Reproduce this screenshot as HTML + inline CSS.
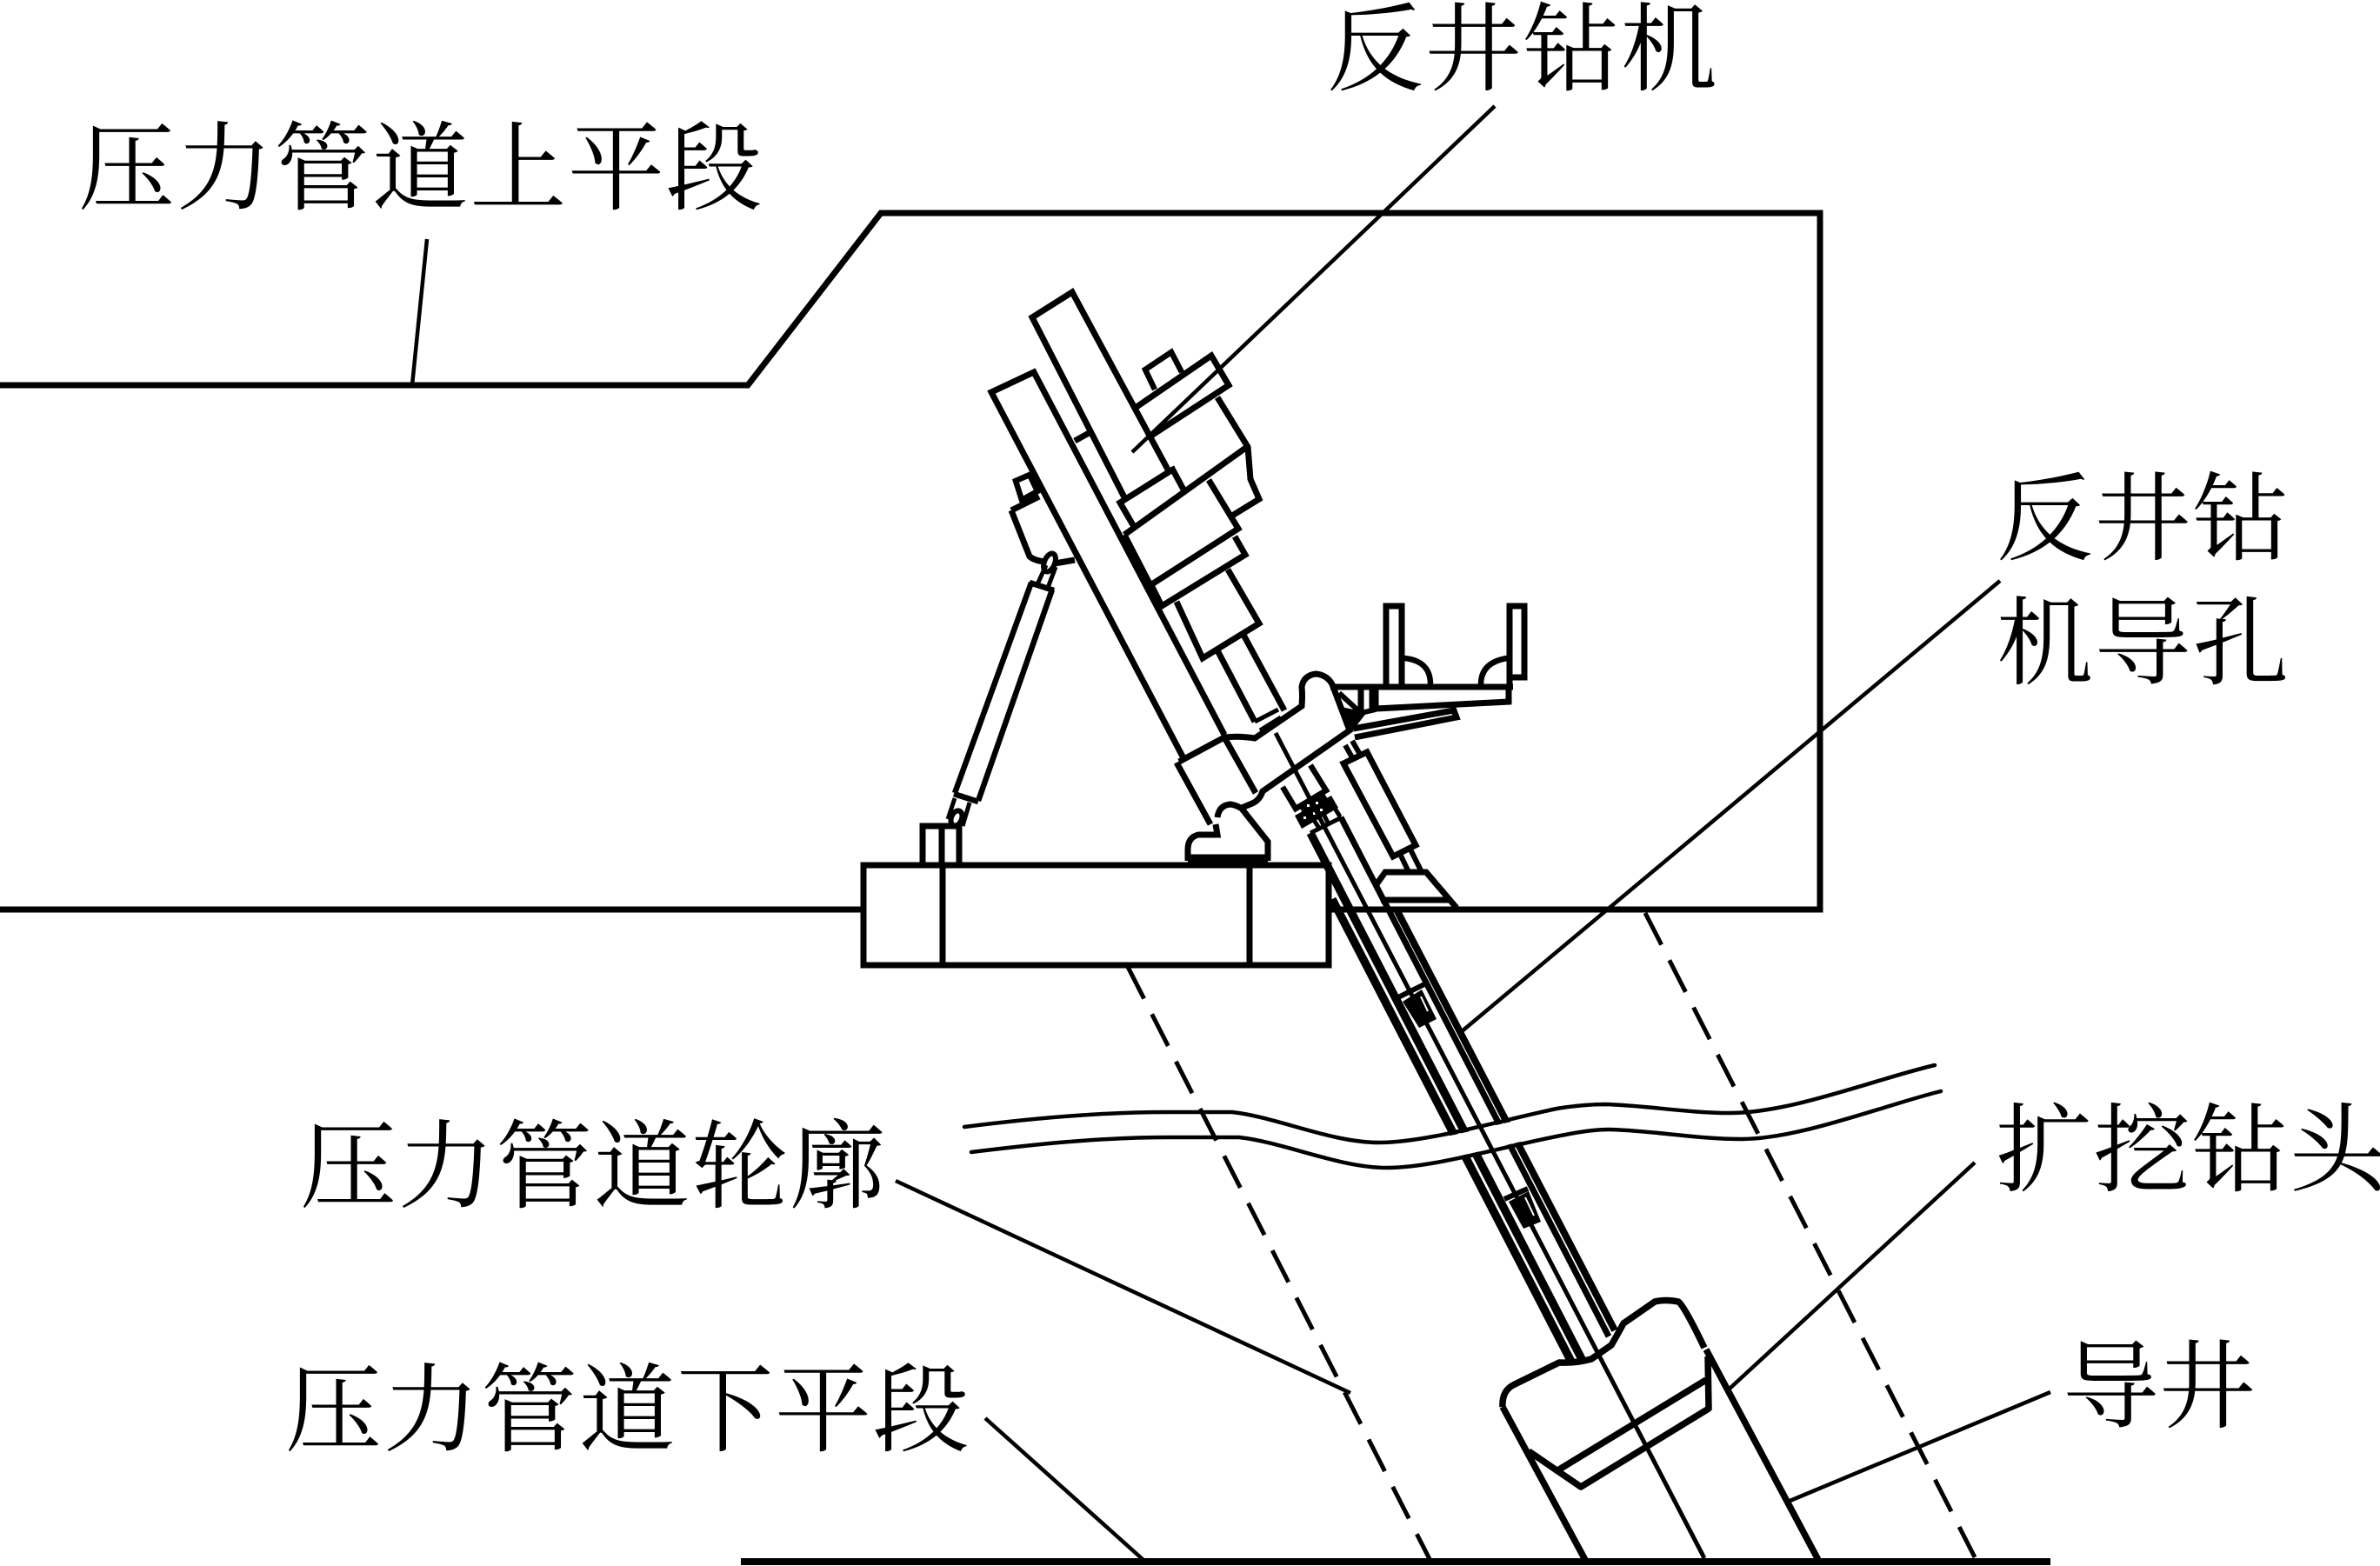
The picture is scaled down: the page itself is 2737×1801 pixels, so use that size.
<!DOCTYPE html>
<html><head><meta charset="utf-8"><style>
html,body{margin:0;padding:0;background:#fff}
svg{display:block}
text{font-family:"Liberation Serif","Noto Serif CJK SC",serif;font-size:111px;fill:#000;letter-spacing:1.6px}
</style></head><body>
<svg xmlns="http://www.w3.org/2000/svg" width="2737" height="1801" viewBox="0 0 2737 1801">
<rect width="2737" height="1801" fill="#fff"/>
<g fill="none" stroke="#000" stroke-width="7" stroke-linejoin="miter">
<!-- frame -->
<path d="M0,443 H860 L1013,245 H2093 V1046 H1528"/>
<path d="M0,1046 H993"/>
<rect x="993" y="995" width="535" height="115" fill="#fff"/>
<path d="M1084,995 V1110 M1437,995 V1110"/>
<!-- small base box -->
<path d="M1061,995 V950 H1103 V995 M1083,950 V995"/>
<!-- strut -->
<path d="M1186,670 L1098,912 M1210,678 L1125,921 M1184,670 L1212,679 M1097,913 L1125,922" stroke-width="6.5"/>
<path d="M1193,672 L1203,650 M1205,676 L1214,652 M1098,918 L1090,942 M1115,923 L1107,950" stroke-width="5"/>
<ellipse cx="1207" cy="647" rx="6" ry="11" transform="rotate(22 1207 647)" stroke-width="6"/>
<ellipse cx="1100" cy="941" rx="6" ry="9" transform="rotate(22 1100 941)" stroke-width="6"/>
<!-- front beam -->
<path d="M1360,870 L1140,451 L1189,428 L1408,845"/>
<path d="M1168,553 L1184,546 L1193,565 L1175,575 Z" stroke-width="6.5"/>
<path d="M1163,587 L1195,571 M1163,587 L1184,640 Q1190,645 1202,646 M1213,648 L1236,644"/>
<!-- rear beam -->
<path d="M1293,572 L1187,365 L1233,336 L1343,540"/>
<path d="M1236,507 L1254,497"/>
<!-- plate and motor -->
<path d="M1307,468 L1393,409 L1413,443 L1321,503"/>
<path d="M1328,448 L1317,425 L1347,405 L1359,428" stroke-width="6.5"/>
<path d="M1400,457 L1435,514 L1438,551 L1448,574 L1417,593"/>
<path d="M1434,514 L1293,615"/>
<path d="M1347,541 L1288,578 L1303,604 M1347,537 L1361,563"/>
<!-- second & third blocks -->
<path d="M1293,615 L1323,673 L1424,608 L1390,552"/>
<path d="M1420,617 L1432,638 L1336,697 L1324,673"/>
<path d="M1353,692 L1383,757 L1448,717 L1412,655"/>
<path d="M1400,748 L1443,830 M1430,730 L1477,817"/>
<path d="M1443,830 L1470,816 M1449,840 L1473,825" stroke-width="5"/>
<!-- base block of drive -->
<path d="M1356,876 L1408,848 Q1425,846 1443,849 L1497,812 Q1498,800 1497,790 Q1499,777 1513,775 Q1526,776 1532,787 L1552,840 L1452,910 Q1449,920 1440,924 L1428,929"/>
<path d="M1353,877 L1392,948 M1408,848 L1444,912"/>
<!-- foot under drive -->
<path d="M1398,948 L1400,960 H1378 Q1366,963 1366,977 V990 M1400,940 Q1402,926 1415,925 Q1422,926 1428,930 L1458,968 V990"/>
<path d="M1366,988.5 H1458" stroke-width="12"/>
<!-- platform -->
<path d="M1530,790 H1740 M1735,792 V807 L1582,815 V793 M1565,793 V818 M1578,793 V815"/>
<path d="M1540,797 L1565,820 L1582,816" stroke-width="6"/>
<path d="M1556,838 L1672,817 L1675,825 L1558,848"/>
<path d="M1547,815 L1570,820 L1556,838 Z" fill="#000" stroke-width="2"/>
<rect x="1594" y="697" width="18" height="93"/>
<path d="M1736,788 V697 H1753 V779 H1736"/>
<path d="M1615,757 Q1645,760 1645,787 M1733,757 Q1703,762 1703,787" stroke-width="6.5"/>
<!-- right cylinder -->
<path d="M1545,878 L1572,865 L1628,972 L1602,985 Z"/>
<path d="M1547,857 L1556,873 M1555,852 L1566,871 M1610,982 L1620,1003 M1622,977 L1635,1003" stroke-width="6"/>
<path d="M1583,1017 L1593,1003 H1640 L1675,1044"/>
<path d="M1588,1035 H1667"/>
<!-- collar -->
<path d="M1475,905 L1490,930 L1525,909 L1507,880" stroke-width="6.5"/>
<polygon points="1489,938 1531,915 1539,929 1497,953" fill="#000" stroke="none"/>
<polygon points="1492,925 1521,909 1528,921 1500,938" fill="#000" stroke="none"/>
<g fill="#fff" stroke="none">
<rect x="1503" y="925" width="3" height="3"/><rect x="1513" y="922" width="3" height="3"/>
<rect x="1499" y="939" width="3" height="3"/><rect x="1510" y="934" width="3" height="3"/><rect x="1518" y="930" width="3" height="3"/>
<rect x="1514" y="944" width="3" height="6"/><rect x="1523" y="939" width="3" height="6"/>
</g>
<path d="M1516,951 L1509,940 M1527,946 L1521,934 M1541,939 L1534,928 M1507,958 L1543,940" stroke-width="5"/>
<!-- drill pipes -->
<path d="M1507,958 L1819,1563" stroke-width="9.5"/>
<path d="M1532,1034 L1807,1566" stroke-width="9.5"/>
<path d="M1542,940 L1850,1537" stroke-width="7"/>
<path d="M1606,1046 L1857,1530" stroke-width="8"/>
<!-- couplers -->
<path d="M1608,1147 L1638,1132 M1730,1379 L1757,1367" stroke-width="6"/>
<polygon points="1613,1152 1635,1138 1652,1172 1632,1182" fill="#000" stroke="none"/>
<polygon points="1735,1382 1758,1370 1772,1405 1752,1413" fill="#000" stroke="none"/>
<path d="M1625,1149 L1637,1172 M1634,1146 L1642,1163 M1747,1380 L1757,1401 M1754,1377 L1764,1398" stroke="#fff" stroke-width="2"/>
<!-- white break -->
<path d="M1500,1320 C1530,1328 1560,1329 1590,1329 C1645,1329 1725,1304 1795,1290 C1815,1286 1830,1285 1850,1285" stroke="#fff" stroke-width="25"/>
</g>
<g fill="none" stroke="#000" stroke-linecap="butt">
<!-- wave lines -->
<g stroke-width="4.5" stroke-linecap="round">
<path d="M1109,1296 C1180,1287 1260,1279 1340,1279 L1417,1279 C1470,1285 1530,1314 1586,1314 C1640,1314 1720,1290 1790,1275 C1815,1271 1830,1270 1846,1270 C1890,1271 1940,1280 1990,1280 C2060,1280 2160,1240 2225,1225"/>
<path d="M1117,1325 C1190,1316 1265,1308 1345,1308 L1425,1308 C1478,1314 1540,1343 1595,1343 C1650,1343 1730,1318 1800,1305 C1820,1301 1835,1299 1850,1299 C1900,1300 1950,1310 2003,1310 C2070,1310 2170,1270 2232,1255"/>
</g>
<!-- axis -->
<path d="M1467,843 L1960,1792" stroke-width="5"/>
<!-- reamer head -->
<path d="M1728,1618 L1823,1794 M1962,1552 L2091,1794" stroke-width="7.5"/>
<path d="M1728,1618 Q1727,1600 1740,1593 L1793,1567 Q1812,1568 1830,1563 L1853,1547 Q1860,1535 1867,1522 L1903,1497 Q1915,1494 1930,1497 Q1936,1500 1960,1550" stroke-width="7.5"/>
<path d="M1964,1560 L1965,1620 L1818,1710 L1758,1669" stroke-width="7.5" stroke-linejoin="round"/>
<path d="M1962,1587 L1793,1690" stroke-width="7.5"/>
<!-- dashed -->
<path d="M1297,1112 L1645,1795" stroke-width="5" stroke-dasharray="41 20"/>
<path d="M1892,1050 L2271,1791" stroke-width="5" stroke-dasharray="41 20"/>
<!-- bottom line -->
<path d="M852,1796 H2358" stroke-width="8"/>
<!-- leaders -->
<g stroke-width="4.5">
<path d="M491,275 L474,443"/>
<path d="M1719,122 L1302,520"/>
<path d="M2300,668 L1680,1187"/>
<path d="M2271,1337 L1989,1597"/>
<path d="M2358,1601 L2056,1727"/>
<path d="M1030,1358 L1553,1602"/>
<path d="M1133,1631 L1316,1795"/>
</g>
</g>
<text x="90" y="232">压力管道上平段</text>
<text x="1526" y="95">反井钻机</text>
<text x="2296" y="635">反井钻</text>
<text x="2296" y="778">机导孔</text>
<text x="345" y="1380">压力管道轮廓</text>
<text x="328" y="1660">压力管道下平段</text>
<text x="2295" y="1361">扩挖钻头</text>
<text x="2372" y="1633" style="letter-spacing:0">导井</text>
</svg>
</body></html>
